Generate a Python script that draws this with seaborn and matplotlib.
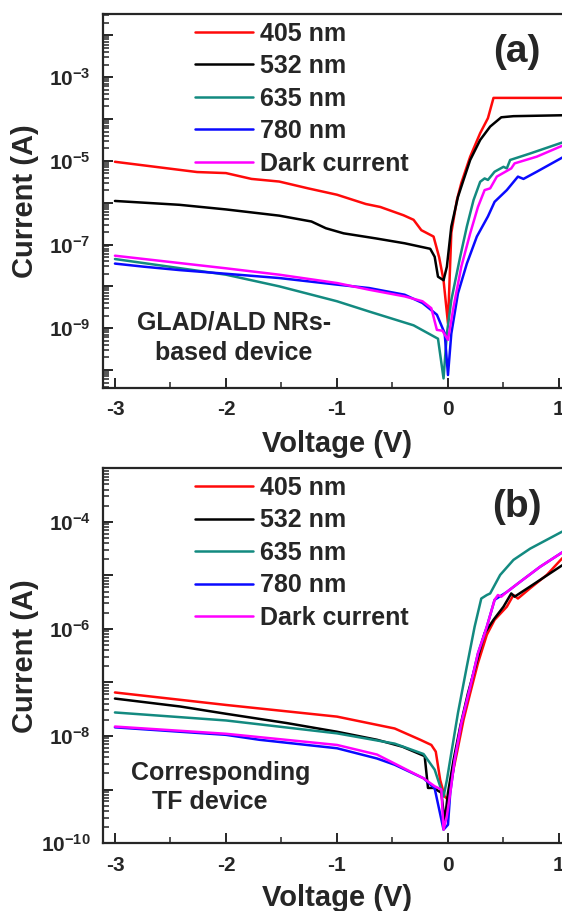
import numpy as np
import seaborn as sns
import matplotlib.pyplot as plt
from matplotlib.ticker import FixedLocator, FuncFormatter, LogLocator, MultipleLocator

sns.set_style("ticks")
plt.rcParams['font.family'] = ['Liberation Sans', 'DejaVu Sans']
plt.rcParams['font.weight'] = 'bold'
plt.rcParams['mathtext.fontset'] = 'custom'
plt.rcParams['mathtext.rm'] = 'Liberation Sans:bold'
plt.rcParams['mathtext.bf'] = 'Liberation Sans:bold'
plt.rcParams['mathtext.it'] = 'Liberation Sans:bold'
plt.rcParams['axes.unicode_minus'] = False

labels = ['405 nm', '532 nm', '635 nm', '780 nm', 'Dark current']
colors = ['#ff0a0a', '#000000', '#138a80', '#0a0aff', '#ff00ff']

# ---- panel (a): GLAD/ALD NRs-based device ----
a_405_v = [-3.0, -2.26, -2.0, -1.77, -1.52, -1.26, -1.0, -0.74, -0.61, -0.4, -0.31, -0.24, -0.13,
           -0.08, -0.04, 0.0, 0.03, 0.08, 0.12, 0.2, 0.29, 0.36, 0.41, 1.03]
a_405_i = [9.5e-6, 5.4e-6, 5.1e-6, 3.7e-6, 3.2e-6, 2.2e-6, 1.55e-6, 9.3e-7, 7.9e-7, 5.0e-7, 3.9e-7, 2.2e-7,
           1.55e-7, 5.0e-8, 1.4e-8, 1.3e-9, 1.9e-7, 1.15e-6, 2.95e-6, 1.26e-5, 4.6e-5, 1.05e-4, 3.2e-4, 3.2e-4]

a_532_v = [-3.0, -2.42, -2.0, -1.52, -1.23, -1.1, -0.94, -0.65, -0.39, -0.16, -0.12, -0.09, -0.04, -0.01,
           0.03, 0.09, 0.14, 0.2, 0.29, 0.38, 0.48, 0.59, 1.03]
a_532_i = [1.1e-6, 8.9e-7, 6.9e-7, 4.9e-7, 3.55e-7, 2.45e-7, 1.85e-7, 1.4e-7, 1.07e-7, 7.9e-8, 5.1e-8, 1.7e-8,
           1.4e-8, 2.95e-8, 2.7e-7, 1.38e-6, 3.5e-6, 1.05e-5, 3.16e-5, 6.6e-5, 1.1e-4, 1.17e-4, 1.23e-4]

a_635_v = [-3.0, -2.0, -1.52, -1.0, -0.71, -0.31, -0.09, -0.04, -0.01, 0.03, 0.11, 0.17, 0.23, 0.29,
           0.33, 0.36, 0.42, 0.5, 0.53, 0.56, 0.74, 1.03]
a_635_i = [4.5e-8, 1.9e-8, 1.0e-8, 4.4e-9, 2.5e-9, 1.17e-9, 5.6e-10, 6.3e-11, 7.4e-10, 4.7e-9, 5.1e-8, 2.7e-7,
           1.15e-6, 3.16e-6, 3.8e-6, 3.5e-6, 5.5e-6, 7.2e-6, 6.6e-6, 1.05e-5, 1.5e-5, 2.75e-5]

a_780_v = [-3.0, -2.74, -2.42, -2.0, -1.52, -1.0, -0.71, -0.39, -0.23, -0.1, -0.03, 0.0, 0.03, 0.09,
           0.17, 0.26, 0.36, 0.42, 0.53, 0.63, 0.68, 0.8, 1.03]
a_780_i = [3.5e-8, 2.95e-8, 2.45e-8, 2.0e-8, 1.58e-8, 1.1e-8, 9.1e-9, 6.3e-9, 4.0e-9, 2.1e-9, 7.6e-10, 7.6e-11,
           7.4e-10, 6.8e-9, 3.5e-8, 1.55e-7, 4.7e-7, 1.05e-6, 2.0e-6, 4.2e-6, 3.7e-6, 5.5e-6, 1.2e-5]

a_dark_v = [-3.0, -2.0, -1.52, -1.0, -0.71, -0.39, -0.23, -0.15, -0.1, -0.05, 0.0, 0.05, 0.12, 0.2,
            0.27, 0.33, 0.38, 0.44, 0.57, 0.6, 0.8, 1.03]
a_dark_i = [5.4e-8, 2.7e-8, 1.9e-8, 1.2e-8, 8.3e-9, 5.75e-9, 4.4e-9, 3.0e-9, 9.1e-10, 8.7e-10, 5.25e-10, 3.2e-9,
            2.95e-8, 1.85e-7, 7.9e-7, 2.0e-6, 2.2e-6, 4.2e-6, 6.6e-6, 8.7e-6, 1.26e-5, 2.3e-5]

# ---- panel (b): corresponding TF device ----
b_405_v = [-3.0, -2.0, -1.0, -0.48, -0.25, -0.15, -0.11, -0.07, -0.03, 0.0, 0.03, 0.08, 0.14, 0.2,
           0.27, 0.35, 0.42, 0.53, 0.59, 0.63, 0.74, 0.89, 1.03]
b_405_i = [6.5e-8, 3.8e-8, 2.3e-8, 1.38e-8, 8.5e-9, 6.8e-9, 5.1e-9, 1.5e-9, 7.4e-10, 6.5e-10, 1.5e-9, 4.8e-9,
           2.0e-8, 6.3e-8, 2.3e-7, 7.8e-7, 1.48e-6, 2.6e-6, 4.3e-6, 3.7e-6, 5.75e-6, 1.02e-5, 2.1e-5]

b_532_v = [-3.0, -2.41, -2.0, -1.45, -1.0, -0.64, -0.41, -0.21, -0.18, -0.13, -0.06, -0.03, 0.0, 0.05,
           0.11, 0.18, 0.27, 0.33, 0.41, 0.5, 0.57, 0.6, 0.74, 1.03]
b_532_i = [5.0e-8, 3.55e-8, 2.6e-8, 1.74e-8, 1.2e-8, 8.5e-9, 6.3e-9, 4.2e-9, 1.07e-9, 1.07e-9, 8.7e-10, 2.5e-10,
           8.7e-10, 3.55e-9, 1.5e-8, 6.3e-8, 3.0e-7, 8.3e-7, 1.48e-6, 2.6e-6, 4.6e-6, 4.0e-6, 6.2e-6, 1.55e-5]

b_635_v = [-3.0, -2.0, -1.0, -0.48, -0.22, -0.12, -0.04, -0.01, 0.03, 0.09, 0.17, 0.24, 0.3, 0.35,
           0.38, 0.47, 0.59, 0.74, 1.03]
b_635_i = [2.75e-8, 1.95e-8, 1.12e-8, 7.2e-9, 4.6e-9, 2.35e-9, 7.4e-10, 1.5e-9, 4.8e-9, 2.7e-8, 2.0e-7, 1.1e-6,
           3.7e-6, 4.3e-6, 4.6e-6, 1.02e-5, 1.95e-5, 3.16e-5, 6.6e-5]

b_780_v = [-3.0, -2.0, -1.7, -1.0, -0.64, -0.48, -0.22, -0.12, -0.04, 0.0, 0.02, 0.06, 0.12, 0.2,
           0.27, 0.35, 0.42, 0.53, 0.65, 0.83, 1.03]
b_780_i = [1.45e-8, 1.05e-8, 8.5e-9, 5.9e-9, 3.8e-9, 2.9e-9, 1.62e-9, 1.05e-9, 1.78e-10, 2.2e-10, 8.5e-10,
           3.55e-9, 1.74e-8, 8.3e-8, 3.5e-7, 1.1e-6, 3.5e-6, 4.9e-6, 7.6e-6, 1.45e-5, 2.7e-5]

b_dark_v = [-3.0, -2.0, -1.0, -0.64, -0.22, -0.12, -0.06, -0.04, -0.01, 0.02, 0.06, 0.12, 0.2, 0.27,
            0.35, 0.42, 0.45, 0.48, 0.53, 0.65, 0.83, 1.03]
b_dark_i = [1.5e-8, 1.1e-8, 6.8e-9, 4.5e-9, 1.62e-9, 1.15e-9, 1.0e-9, 1.78e-10, 3.2e-10, 8.5e-10, 3.55e-9,
            1.74e-8, 8.3e-8, 3.5e-7, 1.1e-6, 3.5e-6, 4.3e-6, 4.0e-6, 4.9e-6, 7.6e-6, 1.45e-5, 2.7e-5]

panel_a = [(a_405_v, a_405_i), (a_532_v, a_532_i), (a_635_v, a_635_i), (a_780_v, a_780_i), (a_dark_v, a_dark_i)]
panel_b = [(b_405_v, b_405_i), (b_532_v, b_532_i), (b_635_v, b_635_i), (b_780_v, b_780_i), (b_dark_v, b_dark_i)]

fig = plt.figure(figsize=(5.62, 9.11), dpi=100)
ax_a = fig.add_axes([0.1838, 0.5741, 0.8306, 0.4105])
ax_b = fig.add_axes([0.1838, 0.0746, 0.8306, 0.4113])


def draw_panel(ax, curves, ylim, labelled, tag, note):
    for (v, i), lab, c in zip(curves, labels, colors):
        sns.lineplot(x=v, y=i, ax=ax, color=c, lw=1.8, label=lab, estimator=None, sort=False)
    ax.set_yscale('log')
    ax.set_xlim(-3.105, 1.1)
    ax.set_ylim(*ylim)

    ax.xaxis.set_major_locator(FixedLocator([-3, -2, -1, 0, 1]))
    ax.xaxis.set_minor_locator(MultipleLocator(0.5))
    ax.xaxis.set_major_formatter(FuncFormatter(lambda x, p: '%d' % x))

    decades = list(range(-11, 0))
    ax.yaxis.set_major_locator(FixedLocator([10.0 ** d for d in decades]))
    ax.yaxis.set_minor_locator(LogLocator(base=10, subs=np.arange(2, 10), numticks=30))
    ax.yaxis.set_major_formatter(FuncFormatter(
        lambda y, p: r'$10^{%d}$' % round(np.log10(y)) if round(np.log10(y)) in labelled else ''))
    ax.yaxis.set_minor_formatter(FuncFormatter(lambda y, p: ''))

    ax.tick_params(which='major', direction='in', length=7, width=1.4, labelsize=15,
                   top=False, right=False)
    ax.tick_params(which='minor', direction='in', length=4, width=1.1, top=False, right=False)
    ax.tick_params(axis='y', which='major', pad=9)
    ax.tick_params(axis='x', which='major', pad=9)
    for s in ax.spines.values():
        s.set_linewidth(1.6)

    ax.set_xlabel('Voltage (V)', fontsize=21, fontweight='bold')
    ax.set_ylabel('Current (A)', fontsize=21, fontweight='bold')
    ax.yaxis.set_label_coords(-0.138, 0.5)

    leg = ax.legend(loc='upper left', bbox_to_anchor=(0.197, 0.98), frameon=False, fontsize=18,
                    handlelength=2.3, handletextpad=0.3, labelspacing=0.34, borderpad=0,
                    borderaxespad=0)
    for line in leg.get_lines():
        line.set_linewidth(1.8)

    ax.text(0.886, 0.898, tag, transform=ax.transAxes, fontsize=28, fontweight='bold',
            ha='center', va='center')
    for (x, y, s) in note:
        ax.text(x, y, s, transform=ax.transAxes, fontsize=18, fontweight='bold',
                ha='center', va='center')


draw_panel(ax_a, panel_a, (10 ** -10.43, 10 ** -1.49), [-3, -5, -7, -9], '(a)',
           [(0.28, 0.176, 'GLAD/ALD NRs-'), (0.28, 0.094, 'based device')])
ax_a.xaxis.set_label_coords(0.5006, -0.113)

draw_panel(ax_b, panel_b, (1e-10, 1e-3), [-4, -6, -8, -10], '(b)',
           [(0.252, 0.187, 'Corresponding'), (0.229, 0.109, 'TF device')])
ax_b.xaxis.set_label_coords(0.5006, -0.11)

fig.savefig('out.png', dpi=100)
